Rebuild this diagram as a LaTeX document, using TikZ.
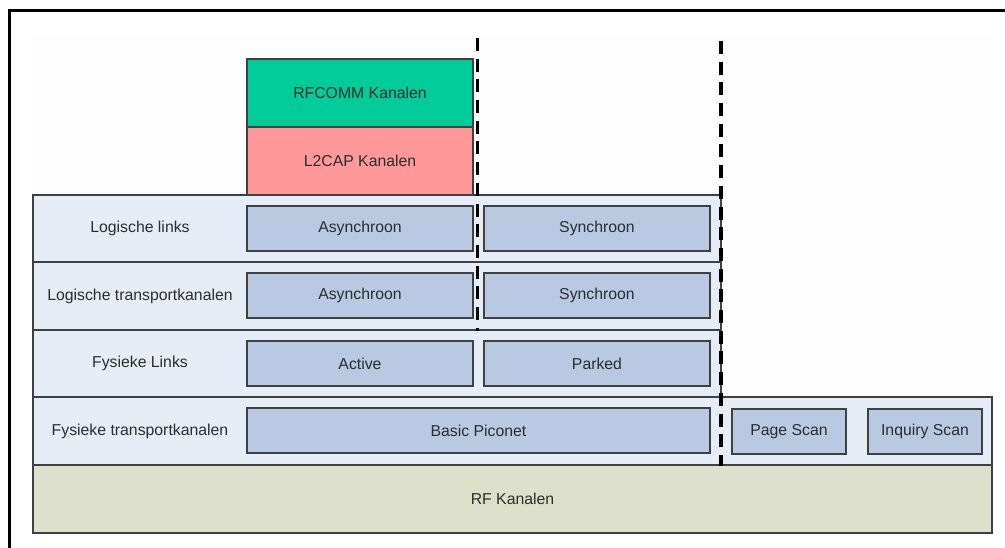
\documentclass[tikz,border=0pt]{standalone}
\usepackage{fontspec}
\setmainfont{Liberation Sans}
\definecolor{rowfill}{RGB}{230,237,247}
\definecolor{cellfill}{RGB}{184,201,225}
\definecolor{rffill}{RGB}{221,224,203}
\definecolor{rfcommfill}{RGB}{0,204,153}
\definecolor{lcapfill}{RGB}{255,153,153}
\definecolor{edge}{RGB}{64,64,64}
\definecolor{txt}{RGB}{45,45,45}
\definecolor{paper}{RGB}{253,253,253}
\tikzset{
  layer/.style={draw=edge, line width=1.4pt, inner sep=0pt, outer sep=0pt,
    anchor=north west, text=txt, font=\fontsize{15.8}{18}\selectfont},
  rowband/.style={layer, fill=rowfill},
  cell/.style={layer, fill=cellfill},
  rowlabel/.style={text=txt, font=\fontsize{15.8}{18}\selectfont, inner sep=0pt},
  divider/.style={line width=3.4pt, dash pattern=on 13pt off 7.7pt, black},
  frameline/.style={line width=3pt, black}
}
\begin{document}
\begin{tikzpicture}[x=1pt, y=-1pt]
\useasboundingbox (0,0) rectangle (1005,548);
% page frame and paper area
\fill[paper] (32,34) rectangle (992,540);
\draw[frameline] (1005,11) -- (9,11) -- (9,548);

% horizontal layers
\node[rowband, minimum width=688pt, minimum height=67pt] (ll) at (33,195) {};
\node[rowband, minimum width=688pt, minimum height=68pt] (lt) at (33,262) {};
\node[rowband, minimum width=688pt, minimum height=67pt] (fl) at (33,330) {};
\node[rowband, minimum width=959pt, minimum height=68pt] (ft) at (33,397) {};
\node[layer, fill=rffill, minimum width=959pt, minimum height=68pt] (rf) at (33,465) {RF Kanalen};

% layer names
\node[rowlabel] (lbl1) at (140,228.5) {Logische links};
\node[rowlabel] (lbl2) at (140,296) {Logische transportkanalen};
\node[rowlabel] (lbl3) at (140,363.5) {Fysieke Links};
\node[rowlabel] (lbl4) at (140,431) {Fysieke transportkanalen};

% upper channels
\node[layer, fill=rfcommfill, minimum width=226pt, minimum height=68pt] (rfcomm) at (247,59) {RFCOMM Kanalen};
\node[layer, fill=lcapfill, minimum width=226pt, minimum height=68pt] (l2cap) at (247,127) {L2CAP Kanalen};

% cells
\node[cell, minimum width=226pt, minimum height=45pt] (a1) at (247,206) {Asynchroon};
\node[cell, minimum width=226pt, minimum height=45pt] (s1) at (484,206) {Synchroon};
\node[cell, minimum width=226pt, minimum height=45pt] (a2) at (247,273) {Asynchroon};
\node[cell, minimum width=226pt, minimum height=45pt] (s2) at (484,273) {Synchroon};
\node[cell, minimum width=226pt, minimum height=45pt] (act) at (247,341) {Active};
\node[cell, minimum width=226pt, minimum height=45pt] (prk) at (484,341) {Parked};
\node[cell, minimum width=463pt, minimum height=45pt] (bp) at (247,408) {Basic Piconet};
\node[cell, minimum width=114pt, minimum height=45pt] (ps) at (732,409) {Page Scan};
\node[cell, minimum width=114pt, minimum height=45pt] (is) at (868,409) {Inquiry Scan};

% dividers
\coordinate (d1t) at (477.5,38);
\coordinate (d1b) at (477.5,331);
\coordinate (d2t) at (721,41);
\coordinate (d2b) at (721,466);
\draw[divider] (d1t) -- (d1b);
\draw[divider] (d2t) -- (d2b);
\end{tikzpicture}
\end{document}
